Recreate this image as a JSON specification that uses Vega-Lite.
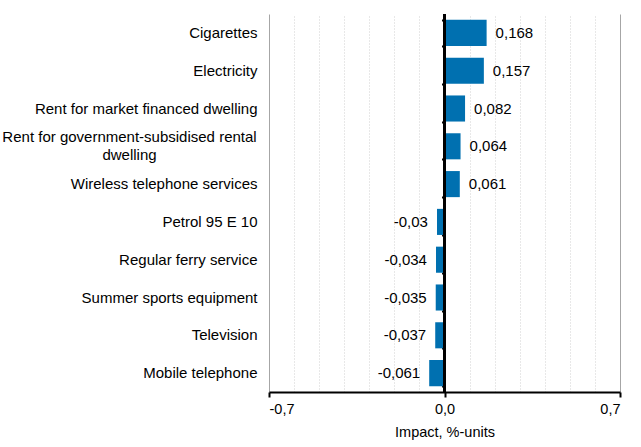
{
  "$schema": "https://vega.github.io/schema/vega-lite/v6.json",
  "width": 351,
  "height": 378,
  "autosize": {"type": "none"},
  "padding": {"left": 269, "top": 14, "right": 21, "bottom": 55},
  "config": {
    "font": "Liberation Sans",
    "view": {"stroke": null},
    "axis": {"labelFont": "Liberation Sans", "titleFont": "Liberation Sans", "labelFontSize": 14.5, "titleFontSize": 14.5, "labelColor": "#000000", "titleColor": "#000000", "titleFontWeight": "normal"}
  },
  "data": {
    "values": [
      {"item": "Cigarettes", "v": 0.168},
      {"item": "Electricity", "v": 0.157},
      {"item": "Rent for market financed dwelling", "v": 0.082},
      {"item": "Rent for government-subsidised rental dwelling", "v": 0.064},
      {"item": "Wireless telephone services", "v": 0.061},
      {"item": "Petrol 95 E 10", "v": -0.03},
      {"item": "Regular ferry service", "v": -0.034},
      {"item": "Summer sports equipment", "v": -0.035},
      {"item": "Television", "v": -0.037},
      {"item": "Mobile telephone", "v": -0.061}
    ]
  },
  "transform": [
    {"calculate": "replace(toString(datum.v), '.', ',')", "as": "lab"}
  ],
  "resolve": {"axis": {"y": "independent", "x": "independent"}},
  "layer": [
    {
      "mark": {"type": "bar", "color": "#0070b0"},
      "encoding": {
        "y": {
          "field": "item", "type": "nominal", "sort": null,
          "scale": {"paddingInner": 0.31, "paddingOuter": 0.155},
          "axis": {
            "title": null, "domain": false, "ticks": false,
            "labelPadding": {"condition": {"test": "datum.value == 'Rent for government-subsidised rental dwelling'", "value": 140}, "value": 12},
            "labelAlign": {"condition": {"test": "datum.value == 'Rent for government-subsidised rental dwelling'", "value": "center"}, "value": "right"},
            "labelOffset": {"condition": {"test": "datum.value == 'Rent for government-subsidised rental dwelling'", "value": -9}, "value": 0},
            "labelLimit": 300, "labelLineHeight": 18, "labelFontSize": 15,
            "labelExpr": "datum.value == 'Rent for government-subsidised rental dwelling' ? ['Rent for government-subsidised rental', 'dwelling'] : datum.value"
          }
        },
        "x": {
          "field": "v", "type": "quantitative",
          "scale": {"domain": [-0.7, 0.7], "nice": false, "zero": false},
          "axis": {
            "title": "Impact, %-units", "titlePadding": 10,
            "values": [-0.7, -0.6, -0.5, -0.4, -0.3, -0.2, -0.1, 0, 0.1, 0.2, 0.3, 0.4, 0.5, 0.6, 0.7],
            "labelExpr": "abs(datum.value) < 0.001 ? '0,0' : abs(abs(datum.value) - 0.7) < 0.001 ? (datum.value < 0 ? '-0,7' : '0,7') : ''",
            "grid": true,
            "gridColor": {"condition": {"test": "abs(abs(datum.value) - 0.7) < 0.001", "value": "#a6a6a6"}, "value": "#d0d0d0"},
            "gridDash": {"condition": {"test": "abs(abs(datum.value) - 0.7) < 0.001", "value": []}, "value": [1, 2]},
            "domainColor": "#000000", "domainWidth": 2,
            "tickColor": "#000000", "tickWidth": 2, "tickSize": 5,
            "tickOpacity": {"condition": {"test": "abs(datum.value) < 0.001 || abs(abs(datum.value) - 0.7) < 0.001", "value": 1}, "value": 0},
            "labelPadding": 5
          }
        }
      }
    },
    {
      "mark": {"type": "rule", "color": "#000000", "strokeWidth": 2},
      "encoding": {"x": {"datum": 0, "type": "quantitative", "axis": null}}
    },
    {
      "transform": [{"filter": "datum.v >= 0"}],
      "mark": {"type": "text", "fontSize": 15, "font": "Liberation Sans", "color": "#000000", "align": "left", "dx": 9},
      "encoding": {
        "y": {"field": "item", "type": "nominal", "sort": null, "axis": null},
        "x": {"field": "v", "type": "quantitative", "axis": null},
        "text": {"field": "lab"}
      }
    },
    {
      "transform": [{"filter": "datum.v < 0"}],
      "mark": {"type": "text", "fontSize": 15, "font": "Liberation Sans", "color": "#000000", "align": "right", "dx": -9},
      "encoding": {
        "y": {"field": "item", "type": "nominal", "sort": null, "axis": null},
        "x": {"field": "v", "type": "quantitative", "axis": null},
        "text": {"field": "lab"}
      }
    },
    {
      "mark": {"type": "point", "opacity": 0},
      "encoding": {
        "y": {
          "field": "item", "type": "nominal", "sort": null,
          "axis": {"orient": "left", "offset": -175.5, "labels": false, "title": null, "domain": false, "ticks": true, "tickBand": "extent", "tickColor": "#000000", "tickWidth": 2, "tickSize": 3}
        },
        "x": {"datum": 0, "type": "quantitative", "axis": null}
      }
    }
  ]
}
